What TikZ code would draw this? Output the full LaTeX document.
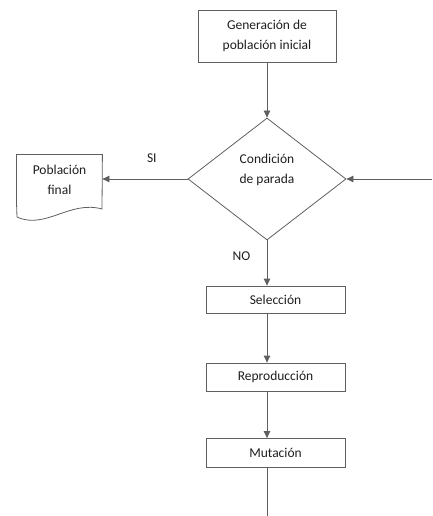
\documentclass[tikz,border=0pt]{standalone}
\usepackage{fontspec}
\setmainfont{Carlito}
\usetikzlibrary{arrows.meta, positioning, shapes.geometric}

\definecolor{linegray}{RGB}{95,95,95}
\definecolor{textgray}{RGB}{30,30,30}

\begin{document}
\begin{tikzpicture}[
    x=1bp, y=-1bp,
    >={Triangle[length=7bp,width=6.5bp]},
    line width=0.8bp,
    every node/.style={font=\fontsize{13.5bp}{20.5bp}\selectfont, text=textgray},
    flow/.style={draw=linegray, ->},
    stepbox/.style={draw=linegray, rectangle, minimum width=139bp, minimum height=27bp, inner sep=0pt},
    decision/.style={draw=linegray, diamond, aspect=1.295, minimum width=158bp, minimum height=122bp, inner sep=0pt, align=center}
]
    \useasboundingbox (0,0) rectangle (432,516);

    % === 1. Start ===
    \node[stepbox, minimum width=138bp, minimum height=52bp, align=center] (gen) at (267,36) {Generación de\\población inicial};

    % === 2. Stop condition ===
    \node[decision] (cond) at (267,179) {Condición\\de parada\\\mbox{}};
    \coordinate (back) at (432,179);

    % Document shape
    \node[minimum width=85bp, minimum height=50bp, inner sep=0pt, align=center] (final) at (59.5,180) {Población\\final};
    \draw[linegray] (final.south west) -- (final.north west) -- (final.north east) -- (102,209)
        .. controls (70,200) and (45,230) .. (17,217) -- cycle;

    % === 3. Loop body ===
    \node[stepbox] (sel) at (275.5,299.5) {Selección};
    \node[stepbox, minimum height=28bp] (rep) at (275.5,377) {Reproducción};
    \node[stepbox, minimum height=29bp] (mut) at (275.5,453) {Mutación};
    \coordinate (out) at (267,516);

    % Connectors
    \draw[flow] (gen) -- (cond);
    \draw[flow] (back) -- (cond.east);
    \draw[flow] (cond.west) -- node[pos=0.42, above=13bp] {SI} (final.east |- cond.west);
    \draw[flow] (cond.south) -- node[pos=0.35, left=13bp] {NO} (sel.north -| cond.south);
    \draw[flow] (sel.south -| cond) -- (rep.north -| cond);
    \draw[flow] (rep.south -| cond) -- (mut.north -| cond);
    \draw[linegray] (mut.south -| cond) -- (out);

\end{tikzpicture}
\end{document}
